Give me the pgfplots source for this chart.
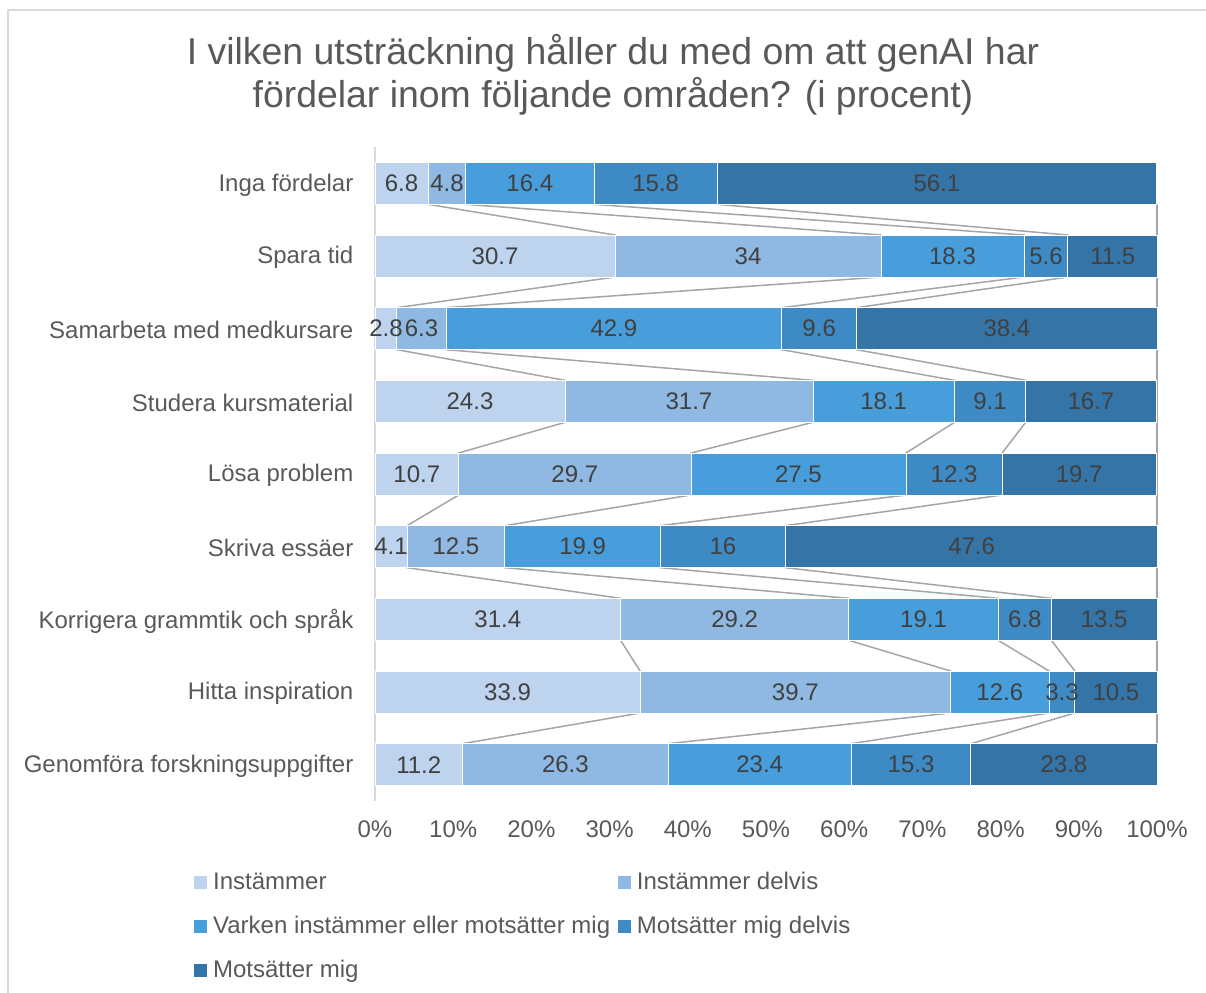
\documentclass[border=0pt]{standalone}
\usepackage{fontspec}
\setmainfont{Liberation Sans}
\usepackage{pgfplots}
\usepackage{pgfplotstable}
\pgfplotsset{compat=1.18}

\definecolor{c1}{HTML}{BDD3EE}
\definecolor{c2}{HTML}{8FB8E2}
\definecolor{c3}{HTML}{479EDB}
\definecolor{c4}{HTML}{3D8AC4}
\definecolor{c5}{HTML}{3574A6}
\definecolor{txt}{HTML}{595959}
\definecolor{lbl}{HTML}{404040}
\definecolor{serie}{HTML}{A5A5A5}
\definecolor{ram}{HTML}{D9D9D9}

% andelar per område (uppifrån och ned: y = 8 ... 0)
\pgfplotstableread{
y  v1   v2   v3   v4   v5
8  6.8  4.8  16.4 15.8 56.1
7  30.7 34   18.3 5.6  11.5
6  2.8  6.3  42.9 9.6  38.4
5  24.3 31.7 18.1 9.1  16.7
4  10.7 29.7 27.5 12.3 19.7
3  4.1  12.5 19.9 16   47.6
2  31.4 29.2 19.1 6.8  13.5
1  33.9 39.7 12.6 3.3  10.5
0  11.2 26.3 23.4 15.3 23.8
}\data

% serielinjer: kumulativa gränser, stapelns över- resp. underkant
\pgfplotstableread{
y     c1   c2   c3   c4
7.711 6.8  11.6 28.0 43.8
7.289 30.7 64.7 83.0 88.6
6.711 30.7 64.7 83.0 88.6
6.289 2.8  9.1  52.0 61.6
5.711 2.8  9.1  52.0 61.6
5.289 24.3 56.0 74.1 83.2
4.711 24.3 56.0 74.1 83.2
4.289 10.7 40.4 67.9 80.2
3.711 10.7 40.4 67.9 80.2
3.289 4.1  16.6 36.5 52.5
2.711 4.1  16.6 36.5 52.5
2.289 31.4 60.6 79.7 86.5
1.711 31.4 60.6 79.7 86.5
1.289 33.9 73.6 86.2 89.5
0.711 33.9 73.6 86.2 89.5
0.289 11.2 37.5 60.9 76.2
}\cum

\pgfplotsset{
  lbl/.style={
    nodes near coords,
    point meta=explicit,
    every node near coord/.style={anchor=center, text=lbl,
      font=\fontsize{12}{14}\selectfont},
  },
  base/.style={
    at={(187.5pt,95.5pt)}, anchor=south west,
    scale only axis, width=391pt, height=327pt,
    xmin=0, xmax=100, ymin=-0.5, ymax=8.5,
  },
}

\begin{document}
\begin{tikzpicture}
\useasboundingbox (0,0) rectangle (603pt,496pt);
\draw[ram, line width=0.75pt] (4pt,-5pt) -- (4pt,491pt) -- (610pt,491pt);

\node[align=center, text=txt, font=\fontsize{18.7}{21.5}\selectfont] at (306.5pt,458.5pt)
  {I vilken utsträckning håller du med om att genAI har\\fördelar inom följande områden? (i procent)};

% serielinjer bakom staplarna
\begin{axis}[base, hide axis, clip=false]
\draw[ram, line width=0.75pt] (axis cs:0,-0.5) -- (axis cs:0,8.5);
\addplot[serie, line width=0.75pt] table[x=c1, y=y] {\cum};
\addplot[serie, line width=0.75pt] table[x=c2, y=y] {\cum};
\addplot[serie, line width=0.75pt] table[x=c3, y=y] {\cum};
\addplot[serie, line width=0.75pt] table[x=c4, y=y] {\cum};
\addplot[serie, line width=0.75pt] coordinates {(100,7.711) (100,0.289)};
\end{axis}

\begin{axis}[base,
  xbar stacked, bar width=21pt, clip=false,
  axis line style={draw=none},
  major tick length=0pt,
  xtick={0,10,...,100},
  xticklabel={\pgfmathprintnumber{\tick}\%},
  ytick={0,...,8},
  yticklabels={Genomföra forskningsuppgifter, Hitta inspiration, Korrigera grammtik och språk, Skriva essäer, Lösa problem, Studera kursmaterial, Samarbeta med medkursare, Spara tid, Inga fördelar},
  /pgf/number format/assume math mode=true,
  tick label style={text=txt, font=\fontsize{12}{14}\selectfont},
  xticklabel style={yshift=-6.5pt},
  yticklabel style={xshift=-7.3pt, yshift=-0.8pt},
  legend columns=2,
  legend image code/.code={\fill[#1] (0pt,-3.5pt) rectangle (7pt,3.5pt);},
  legend style={at={(-0.2328,-0.107)}, anchor=north west, draw=none, fill=none,
    inner sep=0pt, row sep=10.8pt, text=txt, font=\fontsize{12}{14}\selectfont,
    nodes={inner sep=1pt, text height=1.5ex, text depth=.25ex},
    cells={anchor=west},
    /tikz/every odd column/.append style={column sep=1.5pt},
    /tikz/every even column/.append style={column sep=2.5pt}},
]
\addplot[fill=c1, draw=white, line width=0.4pt, lbl] table[x=v1, y=y, meta=v1] {\data};
\addlegendentry{Instämmer}
\addplot[fill=c2, draw=white, line width=0.4pt, lbl] table[x=v2, y=y, meta=v2] {\data};
\addlegendentry{Instämmer delvis}
\addplot[fill=c3, draw=white, line width=0.4pt, lbl] table[x=v3, y=y, meta=v3] {\data};
\addlegendentry{Varken instämmer eller motsätter mig}
\addplot[fill=c4, draw=white, line width=0.4pt, lbl] table[x=v4, y=y, meta=v4] {\data};
\addlegendentry{Motsätter mig delvis}
\addplot[fill=c5, draw=white, line width=0.4pt, lbl] table[x=v5, y=y, meta=v5] {\data};
\addlegendentry{Motsätter mig}
\end{axis}
\end{tikzpicture}
\end{document}
